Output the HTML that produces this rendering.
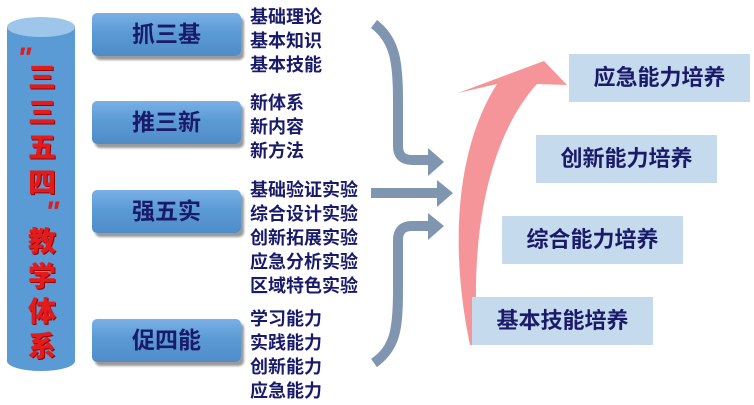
<!DOCTYPE html>
<html><head><meta charset="utf-8"><style>
body{margin:0;width:754px;height:405px;background:#fff;overflow:hidden;position:relative;font-family:"Liberation Sans","Noto Sans CJK SC",sans-serif;}
.b{position:absolute;left:92px;width:149px;height:43px;border-radius:5px;background:linear-gradient(#79b0e6,#5b9bd5 45%,#4f8cc8);box-shadow:3px 4px 2px #9a9a9a;color:#1a1a6a;font-weight:bold;font-size:23px;text-align:center;line-height:43px;}
.l{position:absolute;left:250px;color:#1a1a6a;font-weight:bold;font-size:18px;line-height:24px;}
.r{position:absolute;width:181px;height:48px;background:#c6daee;color:#1a1a6a;font-weight:bold;font-size:22px;line-height:48px;text-align:center;}
.v{position:absolute;left:20px;width:44px;color:#e31b1b;font-weight:900;font-size:28px;line-height:35px;text-align:center;text-shadow:1px 1px 0 #900;}
</style></head><body>
<svg width="754" height="405" style="position:absolute;left:0;top:0">
<rect x="7" y="27" width="68" height="334" fill="#5b9bd5"/>
<ellipse cx="41" cy="361" rx="34" ry="10" fill="#5b9bd5"/>
<ellipse cx="41" cy="27" rx="34" ry="10" fill="#9ec5ea"/>
<g fill="none" stroke="#8096b0" stroke-width="10">
<path d="M374,24 C395,40 398,62 398,100 L398,146 Q398,160 412,160 L430,160"/>
<path d="M371,193 L438,193"/>
<path d="M374,363 C395,348 398,330 398,290 L398,240 Q398,226 412,226 L430,226"/>
</g>
<g fill="#8096b0">
<polygon points="428,148 444,162 428,176"/>
<polygon points="437,180 453,193 437,207"/>
<polygon points="428,213 444,226 428,240"/>
</g>
<path d="M470,345 C450,250 455,150 497,84 L458,93 L544,61 L567,85 L537,84 C495,130 468,220 478,345 Z" fill="#f5959a"/>
<text x="17" y="68" font-family="Liberation Sans" font-weight="bold" font-style="italic" font-size="30" fill="#e31b1b">"</text>
<text x="45" y="222" font-family="Liberation Sans" font-weight="bold" font-style="italic" font-size="30" fill="#e31b1b">"</text>
</svg>
<div class="v" style="top:60px">三<br>三<br>五<br>四</div>
<div class="v" style="top:224px">教<br>学<br>体<br>系</div>
<div class="b" style="top:13px">抓三基</div>
<div class="b" style="top:101px">推三新</div>
<div class="b" style="top:190px">强五实</div>
<div class="b" style="top:319px">促四能</div>
<div class="l" style="top:5px">基础理论<br>基本知识<br>基本技能</div>
<div class="l" style="top:91px">新体系<br>新内容<br>新方法</div>
<div class="l" style="top:178px">基础验证实验<br>综合设计实验<br>创新拓展实验<br>应急分析实验<br>区域特色实验</div>
<div class="l" style="top:307px">学习能力<br>实践能力<br>创新能力<br>应急能力</div>
<div class="r" style="left:569px;top:54px">应急能力培养</div>
<div class="r" style="left:536px;top:135px">创新能力培养</div>
<div class="r" style="left:502px;top:216px">综合能力培养</div>
<div class="r" style="left:472px;top:297px">基本技能培养</div>
</body></html>
